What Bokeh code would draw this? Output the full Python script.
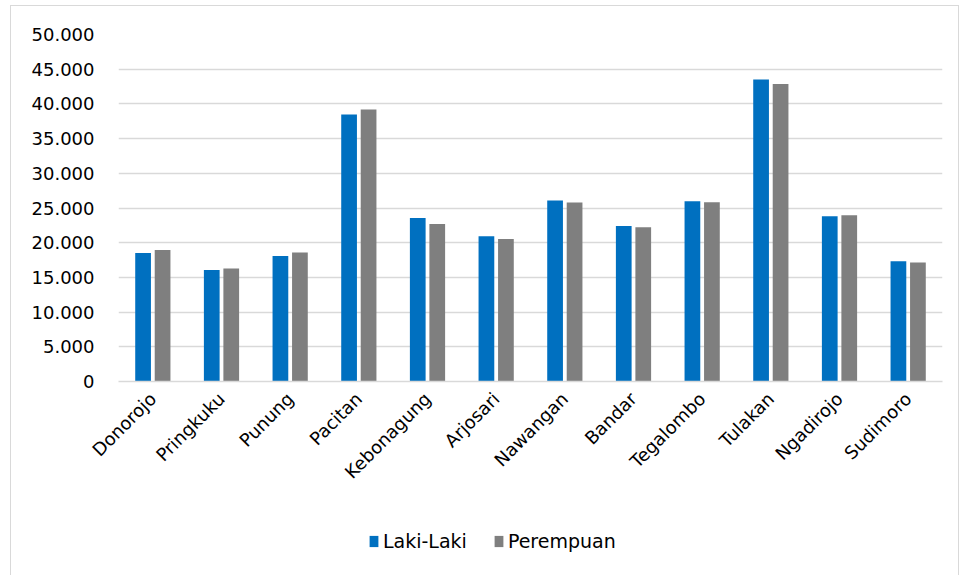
import math
from bokeh.plotting import figure
from bokeh.layouts import column
from bokeh.models import ColumnDataSource, FactorRange, Range1d, Legend, LegendItem, CustomJSTickFormatter
from bokeh.transform import dodge
from bokeh.embed import file_html
from bokeh.resources import INLINE

kecamatan = ["Donorojo", "Pringkuku", "Punung", "Pacitan", "Kebonagung", "Arjosari",
             "Nawangan", "Bandar", "Tegalombo", "Tulakan", "Ngadirojo", "Sudimoro"]
laki_laki = [18500, 16060, 18080, 38480, 23570, 20920, 26070, 22410, 25970, 43530, 23810, 17320]
perempuan = [18950, 16300, 18570, 39200, 22700, 20540, 25790, 22220, 25830, 42860, 23950, 17130]
y_ticks = [0, 5000, 10000, 15000, 20000, 25000, 30000, 35000, 40000, 45000, 50000]
series_names = ["Laki-Laki", "Perempuan"]
series_cols = ["laki", "perempuan"]
series_colors = ["#0070C0", "#7F7F7F"]
offsets = [-0.142, 0.142]

source = ColumnDataSource(dict(kec=kecamatan, laki=laki_laki, perempuan=perempuan))

FONT = "DejaVu Sans"
xr = FactorRange(*kecamatan, range_padding=0)

# ---- main chart ----
p = figure(width=947, height=520, x_range=xr,
           y_range=Range1d(0, 50000), output_backend="svg", toolbar_location=None,
           min_border_left=107, min_border_right=16, min_border_top=28, min_border_bottom=145)
p.outline_line_color = None

for col, color, off in zip(series_cols, series_colors, offsets):
    p.vbar(x=dodge("kec", off, range=xr), top=col, width=0.229,
           source=source, fill_color=color, line_color=None)

p.xgrid.grid_line_color = None
p.ygrid.grid_line_color = "#d9d9d9"
p.ygrid.grid_line_width = 1.5

p.yaxis.ticker = y_ticks
p.yaxis.formatter = CustomJSTickFormatter(code="return tick.toLocaleString('de-DE');")
p.yaxis.axis_line_color = None
p.yaxis.major_tick_line_color = None
p.yaxis.minor_tick_line_color = None
p.yaxis.major_label_text_font = FONT
p.yaxis.major_label_text_font_size = "18px"
p.yaxis.major_label_text_color = "#000000"
p.yaxis.major_label_standoff = 18

p.xaxis.axis_line_color = "#d9d9d9"
p.xaxis.axis_line_width = 1.5
p.xaxis.major_tick_line_color = None
p.xaxis.minor_tick_line_color = None
p.xaxis.major_label_orientation = math.pi / 4
p.xaxis.major_label_text_font = FONT
p.xaxis.major_label_text_font_size = "18px"
p.xaxis.major_label_text_color = "#000000"
p.xaxis.major_label_standoff = 8

# ---- legend strip (frame is aligned with the main chart's frame) ----
p2 = figure(width=947, height=50, x_range=xr, y_range=Range1d(0, 1),
            output_backend="svg", toolbar_location=None,
            min_border_left=107, min_border_right=16, min_border_top=0, min_border_bottom=0)
p2.axis.visible = False
p2.grid.grid_line_color = None
p2.outline_line_color = None
items = []
for name, col, color, off in zip(series_names, series_cols, series_colors, offsets):
    # zero-size bars: nothing visible in the strip, they only provide the legend swatch
    r = p2.vbar(x=dodge("kec", off, range=xr), top=col, bottom=col, width=0,
                source=source, fill_color=color, line_color=None)
    items.append(LegendItem(label=name, renderers=[r]))
legend = Legend(items=items, orientation="horizontal", location=(250, 24),
                label_text_font=FONT, label_text_font_size="19px", label_text_color="#000000",
                glyph_width=11, glyph_height=14, spacing=26, label_standoff=4,
                border_line_color=None, background_fill_alpha=0, margin=0, padding=0)
p2.add_layout(legend, "center")

layout = column(p, p2, spacing=0)
layout.margin = (5, 0, 0, 10)
layout.styles = {"border": "1px solid #d9d9d9"}

open("out.html", "w").write(file_html(layout, INLINE))
